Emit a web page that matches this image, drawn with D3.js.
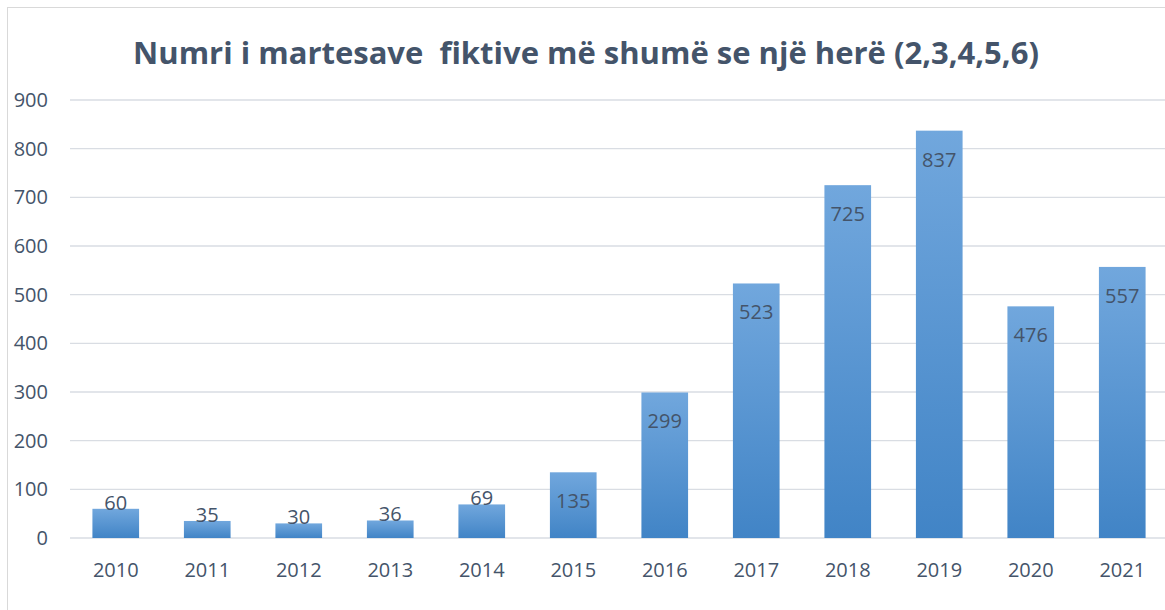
<!DOCTYPE html>
<html>
<head>
<meta charset="utf-8">
<script src="https://cdn.jsdelivr.net/npm/d3@7"></script>
<style>
  body { margin: 0; background: #fff; }
  svg { display: block; font-family: "Open Sans", sans-serif; }
</style>
</head>
<body>
<svg width="1165" height="610">
  <defs>
    <linearGradient id="barGrad" x1="0" y1="0" x2="0" y2="1">
      <stop offset="0%" stop-color="#71a7dd"></stop>
      <stop offset="100%" stop-color="#4184c6"></stop>
    </linearGradient>
  </defs>
</svg>
<script>
  // chart data
  const years = ["2010", "2011", "2012", "2013", "2014", "2015", "2016", "2017", "2018", "2019", "2020", "2021"];
  const counts = [60, 35, 30, 36, 69, 135, 299, 523, 725, 837, 476, 557];
  const yTicks = [0, 100, 200, 300, 400, 500, 600, 700, 800, 900];

  const data = years.map((y, i) => ({ year: y, value: counts[i] }));

  const svg = d3.select("svg");
  const textColor = "#44546A";

  // chart border
  svg.append("rect")
    .attr("x", 7.5).attr("y", 7.5)
    .attr("width", 1170).attr("height", 620)
    .attr("fill", "none")
    .attr("stroke", "#d9d9d9")
    .attr("stroke-width", 1);

  // scales
  const x = d3.scaleBand()
    .domain(years)
    .range([70, 1168])
    .paddingInner(0.49)
    .paddingOuter(0.245);

  const y = d3.scaleLinear()
    .domain([0, 900])
    .range([538, 100]);

  // gridlines
  svg.append("g")
    .selectAll("line")
    .data(yTicks)
    .join("line")
    .attr("x1", 70).attr("x2", 1168)
    .attr("y1", d => y(d)).attr("y2", d => y(d))
    .attr("stroke", "#d9dde3")
    .attr("stroke-width", 1.3);

  // y axis labels
  svg.append("g")
    .selectAll("text")
    .data(yTicks)
    .join("text")
    .attr("x", 48)
    .attr("y", d => y(d))
    .attr("dy", "0.35em")
    .attr("text-anchor", "end")
    .attr("fill", textColor)
    .style("font-size", "20px")
    .text(d => d);

  // bars
  svg.append("g")
    .selectAll("rect")
    .data(data)
    .join("rect")
    .attr("x", d => x(d.year))
    .attr("y", d => y(d.value))
    .attr("width", x.bandwidth())
    .attr("height", d => y(0) - y(d.value))
    .attr("fill", "url(#barGrad)");

  // data labels
  svg.append("g")
    .selectAll("text")
    .data(data)
    .join("text")
    .attr("x", d => x(d.year) + x.bandwidth() / 2)
    .attr("y", d => {
      const h = y(0) - y(d.value);
      return h > 45 ? y(d.value) + 36 : y(d.value) + 1;
    })
    .attr("text-anchor", "middle")
    .attr("fill", textColor)
    .style("font-size", "20px")
    .text(d => d.value);

  // x axis labels
  svg.append("g")
    .selectAll("text")
    .data(years)
    .join("text")
    .attr("x", d => x(d) + x.bandwidth() / 2)
    .attr("y", 577)
    .attr("text-anchor", "middle")
    .attr("fill", textColor)
    .style("font-size", "20px")
    .text(d => d);

  // title
  svg.append("text")
    .attr("x", 586)
    .attr("y", 64)
    .attr("text-anchor", "middle")
    .attr("fill", textColor)
    .style("font-size", "31px")
    .style("font-weight", "bold")
    .style("white-space", "pre")
    .text("Numri i martesave  fiktive më shumë se një herë (2,3,4,5,6)");
</script>
</body>
</html>
